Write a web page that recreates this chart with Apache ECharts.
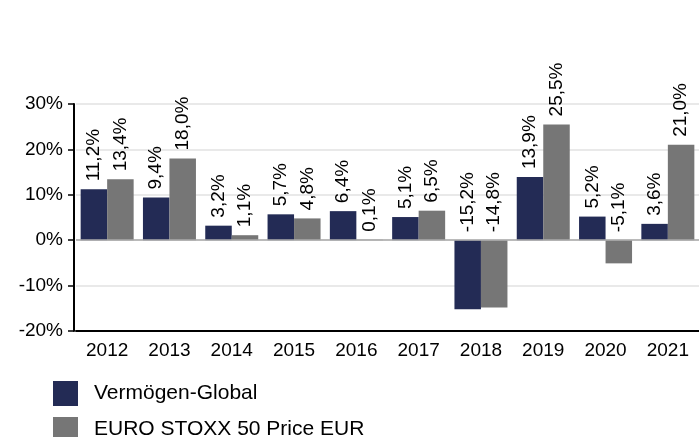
<!DOCTYPE html>
<html>
<head>
<meta charset="utf-8">
<script src="https://cdn.jsdelivr.net/npm/echarts@6/dist/echarts.min.js"></script>
<style>
  html, body { margin: 0; padding: 0; background: #fff; }
  #main { width: 699px; height: 437px; }
</style>
</head>
<body>
<div id="main"></div>
<script>
var years = ['2012', '2013', '2014', '2015', '2016', '2017', '2018', '2019', '2020', '2021'];
var fonds = [11.2, 9.4, 3.2, 5.7, 6.4, 5.1, -15.2, 13.9, 5.2, 3.6];
var index = [13.4, 18.0, 1.1, 4.8, 0.1, 6.5, -14.8, 25.5, -5.1, 21.0];
var seriesNames = ['Vermögen-Global', 'EURO STOXX 50 Price EUR'];
var colors = ['#232b55', '#767676'];

var fontFam = '"Liberation Sans", Arial, sans-serif';

function pct(v) {
    return v.toFixed(1).replace('.', ',') + '%';
}

var chart = echarts.init(document.getElementById('main'));

var labelOpt = {
    show: true,
    position: 'top',
    rotate: 90,
    align: 'left',
    verticalAlign: 'middle',
    distance: 8,
    color: '#000',
    fontSize: 19,
    fontFamily: fontFam,
    formatter: function (p) { return pct(p.value); }
};

function legendAt(name, top) {
    return {
        orient: 'vertical',
        left: 53,
        top: top,
        padding: 0,
        itemWidth: 25,
        itemHeight: 25,
        icon: 'rect',
        textStyle: { fontSize: 21, fontFamily: fontFam, color: '#000', padding: [0, 0, 0, 11] },
        data: [name]
    };
}

chart.setOption({
    animation: false,
    grid: { left: 76, right: 0, top: 104, bottom: 106 },
    legend: [legendAt(seriesNames[0], 381), legendAt(seriesNames[1], 417)],
    xAxis: {
        type: 'category',
        data: years,
        axisLine: { onZero: false, lineStyle: { color: '#000', width: 2 } },
        axisTick: { alignWithLabel: true, length: 6, lineStyle: { color: '#000', width: 1.5 } },
        axisLabel: { fontSize: 19, fontFamily: fontFam, color: '#000', margin: 10 }
    },
    yAxis: {
        type: 'value',
        min: -20,
        max: 30,
        interval: 10,
        offset: 2,
        axisLine: { show: true, lineStyle: { color: '#000', width: 2 } },
        axisTick: { show: true, length: 6, lineStyle: { color: '#000', width: 1.5 } },
        axisLabel: { fontSize: 19, fontFamily: fontFam, color: '#000', margin: 11,
            formatter: function (v) { return v + '%'; } },
        splitLine: { lineStyle: { color: '#e2e2e2', width: 1.5 } }
    },
    series: [
        {
            name: seriesNames[0],
            type: 'bar',
            data: fonds,
            barWidth: 26.5,
            barGap: '0%',
            itemStyle: { color: colors[0] },
            label: labelOpt,
            markLine: {
                silent: true,
                symbol: 'none',
                label: { show: false },
                lineStyle: { color: '#ababab', type: 'solid', width: 1.5 },
                data: [{ yAxis: 0 }]
            }
        },
        {
            name: seriesNames[1],
            type: 'bar',
            data: index,
            barWidth: 26.5,
            itemStyle: { color: colors[1] },
            label: labelOpt
        }
    ]
});
</script>
</body>
</html>
